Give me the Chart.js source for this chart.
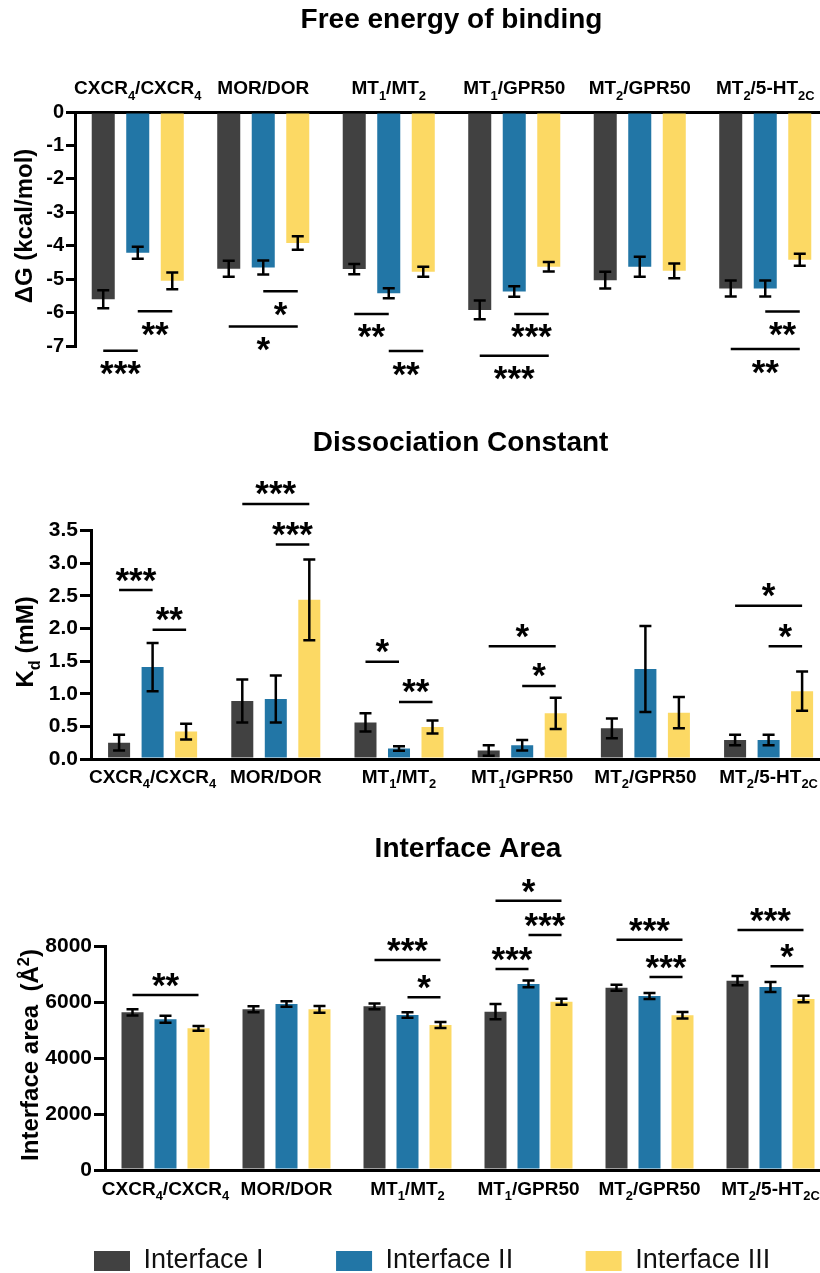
<!DOCTYPE html>
<html><head><meta charset="utf-8">
<script src="https://cdn.jsdelivr.net/npm/chart.js@4.4.1/dist/chart.umd.min.js"></script>
<style>
html,body{margin:0;padding:0;background:#fff;overflow:hidden;width:820px;height:1273px;}
#wrap{position:relative;width:820px;height:1273px;overflow:hidden;background:#fff;}
canvas{position:absolute;left:0;}
</style></head><body>
<div id="wrap">
<canvas id="c1" width="870" height="400" style="top:0px"></canvas>
<canvas id="c2" width="870" height="410" style="top:400px"></canvas>
<canvas id="c3" width="870" height="480" style="top:810px"></canvas>
</div>
<script>
const FONT = "'Liberation Sans', Arial, Helvetica, sans-serif";
Chart.defaults.font.family = FONT;
Chart.defaults.color = '#000';

// ---------- data ----------
const categories = ['CXCR4/CXCR4', 'MOR/DOR', 'MT1/MT2', 'MT1/GPR50', 'MT2/GPR50', 'MT2/5-HT2C'];
const categoryMarkup = ['CXCR_{4}/CXCR_{4}', 'MOR/DOR', 'MT_{1}/MT_{2}', 'MT_{1}/GPR50', 'MT_{2}/GPR50', 'MT_{2}/5-HT_{2C}'];
const seriesNames = ['Interface I', 'Interface II', 'Interface III'];
const seriesColors = ['#414141', '#2276A6', '#FCD964'];

// Free energy of binding (kcal/mol)
const dgI   = [-5.60, -4.69, -4.70, -5.92, -5.03, -5.28];
const dgII  = [-4.21, -4.65, -5.42, -5.37, -4.63, -5.28];
const dgIII = [-5.05, -3.92, -4.78, -4.63, -4.75, -4.42];
const dgErrI   = [0.27, 0.24, 0.15, 0.28, 0.25, 0.24];
const dgErrII  = [0.18, 0.21, 0.15, 0.16, 0.30, 0.24];
const dgErrIII = [0.25, 0.20, 0.15, 0.14, 0.22, 0.18];
const dgTicks = [0, -1, -2, -3, -4, -5, -6, -7];
// [category, series a, series b, level, label]
const dgSig = [
  [0, 0, 1, -7.14, '***'], [0, 1, 2, -5.96, '**'],
  [1, 1, 2, -5.36, '*'],   [1, 0, 2, -6.42, '*'],
  [2, 0, 1, -6.04, '**'],  [2, 1, 2, -7.15, '**'],
  [3, 1, 2, -6.04, '***'], [3, 0, 2, -7.29, '***'],
  [5, 1, 2, -5.97, '**'],  [5, 0, 2, -7.09, '**']
];

// Dissociation constant (mM)
const kdI   = [0.25, 0.89, 0.56, 0.13, 0.47, 0.29];
const kdII  = [1.41, 0.92, 0.16, 0.21, 1.38, 0.29];
const kdIII = [0.42, 2.44, 0.49, 0.70, 0.71, 1.04];
const kdErrI   = [0.12, 0.33, 0.14, 0.08, 0.15, 0.08];
const kdErrII  = [0.37, 0.36, 0.035, 0.08, 0.66, 0.08];
const kdErrIII = [0.12, 0.62, 0.10, 0.24, 0.24, 0.30];
const kdTicks = [0, 0.5, 1.0, 1.5, 2.0, 2.5, 3.0, 3.5];
const kdSig = [
  [0, 0, 1, 2.59, '***'], [0, 1, 2, 1.98, '**'],
  [1, 1, 2, 3.29, '***'], [1, 0, 2, 3.91, '***'],
  [2, 0, 1, 1.49, '*'],   [2, 1, 2, 0.874, '**'],
  [3, 1, 2, 1.12, '*'],   [3, 0, 2, 1.73, '*'],
  [5, 1, 2, 1.73, '*'],   [5, 0, 2, 2.35, '*']
];

// Interface area (Å²)
const areaI   = [5630, 5740, 5845, 5655, 6510, 6760];
const areaII  = [5380, 5930, 5535, 6645, 6215, 6535];
const areaIII = [5060, 5740, 5180, 6010, 5525, 6105];
const areaErrI   = [110, 105, 105, 270, 110, 165];
const areaErrII  = [125, 100, 100, 120, 105, 175];
const areaErrIII = [85, 120, 105, 105, 115, 115];
const areaTicks = [0, 2000, 4000, 6000, 8000];
const areaSig = [
  [0, 0, 2, 6250, '**'],
  [2, 0, 2, 7500, '***'], [2, 1, 2, 6168, '*'],
  [3, 0, 1, 7179, '***'], [3, 1, 2, 8393, '***'], [3, 0, 2, 9618, '*'],
  [4, 0, 2, 8225, '***'], [4, 1, 2, 6893, '***'],
  [5, 0, 2, 8571, '***'], [5, 1, 2, 7275, '*']
];

// ---------- rich text helpers ----------
function parseRich(s) {
  const out = []; const re = /([_^])\{([^}]*)\}/g; let last = 0, m;
  while ((m = re.exec(s))) {
    if (m.index > last) out.push({t: s.slice(last, m.index), k: 0});
    out.push({t: m[2], k: m[1] === '_' ? 1 : -1});
    last = re.lastIndex;
  }
  if (last < s.length) out.push({t: s.slice(last), k: 0});
  return out;
}
function drawRich(ctx, s, x, y, size, weight) {
  const segs = parseRich(s);
  const small = size * 0.68;
  let w = 0;
  segs.forEach(g => { ctx.font = `${weight} ${g.k ? small : size}px ${FONT}`; g.w = ctx.measureText(g.t).width; w += g.w; });
  let cx = x - w / 2;
  ctx.textAlign = 'left'; ctx.textBaseline = 'alphabetic';
  segs.forEach(g => {
    ctx.font = `${weight} ${g.k ? small : size}px ${FONT}`;
    const dy = g.k === 1 ? size * 0.28 : (g.k === -1 ? -size * 0.36 : 0);
    ctx.fillText(g.t, cx, y + dy);
    cx += g.w;
  });
}

// ---------- annotation plugin (error bars, labels, brackets) ----------
function annotPlugin(o) {
  return {
    id: 'annot_' + o.name,
    afterDatasetsDraw(chart) {
      const ctx = chart.ctx, ys = chart.scales.y;
      ctx.save();
      ctx.strokeStyle = '#000'; ctx.lineWidth = 2.5; ctx.lineCap = 'butt';
      chart.data.datasets.forEach((ds, di) => {
        const meta = chart.getDatasetMeta(di);
        meta.data.forEach((bar, i) => {
          const v = ds.data[i], e = o.errors[di][i];
          const yt = ys.getPixelForValue(v + e), yb = ys.getPixelForValue(v - e);
          const hw = 6;
          ctx.beginPath();
          ctx.moveTo(bar.x, yt); ctx.lineTo(bar.x, yb);
          ctx.moveTo(bar.x - hw, yt); ctx.lineTo(bar.x + hw, yt);
          ctx.moveTo(bar.x - hw, yb); ctx.lineTo(bar.x + hw, yb);
          ctx.stroke();
        });
      });
      ctx.restore();
    },
    afterDraw(chart) {
      const ctx = chart.ctx, xs = chart.scales.x, ys = chart.scales.y, area = chart.chartArea;
      ctx.save();
      ctx.fillStyle = '#000';
      // category labels
      const ly = o.xPos === 'top' ? area.top + o.labelDy : area.bottom + o.labelDy;
      categoryMarkup.forEach((lab, i) => {
        drawRich(ctx, lab, xs.getPixelForValue(i), ly, 19, 'bold');
      });
      // y axis title (rotated)
      ctx.save();
      ctx.translate(area.left - o.yTitleDx, (area.top + area.bottom) / 2 - 3);
      ctx.rotate(-Math.PI / 2);
      drawRich(ctx, o.yTitle, 0, 0, 24, 'bold');
      ctx.restore();
      // significance brackets
      ctx.strokeStyle = '#000'; ctx.lineWidth = 2.5;
      ctx.font = `bold 35px ${FONT}`;
      ctx.textAlign = 'center'; ctx.textBaseline = 'alphabetic';
      o.sig.forEach(([c, a, b, lvl, lab]) => {
        const xa = chart.getDatasetMeta(a).data[c].x;
        const xb = chart.getDatasetMeta(b).data[c].x;
        const py = ys.getPixelForValue(lvl);
        ctx.beginPath(); ctx.moveTo(xa, py); ctx.lineTo(xb, py); ctx.stroke();
        const m = ctx.measureText(lab);
        const cy = py + o.starDy;
        const base = cy + (m.actualBoundingBoxAscent - m.actualBoundingBoxDescent) / 2;
        ctx.fillText(lab, (xa + xb) / 2, base);
      });
      ctx.restore();
    }
  };
}

function makeChart(id, o) {
  const datasets = o.values.map((vals, k) => ({
    label: seriesNames[k], data: vals, backgroundColor: seriesColors[k], borderWidth: 0,
    categoryPercentage: o.catPct, barPercentage: o.barPct
  }));
  const scales = {
    x: {
      position: o.xPos, z: 1, offset: true,
      grid: {display: false},
      border: {display: true, color: '#000', width: 3},
      ticks: {display: false},
      afterFit: s => { s.height = o.xHeight; }
    },
    y: {
      min: o.min, max: o.max,
      afterFit: s => { s.width = o.yWidth; },
      afterBuildTicks: s => { s.ticks = o.ticks.map(v => ({value: v})); },
      ticks: {font: {size: o.tickSize, weight: 'bold'}, color: '#000', padding: 2, callback: o.fmt},
      grid: {display: true, drawOnChartArea: false, drawTicks: true, tickLength: o.tickLen, tickWidth: 3, tickColor: '#000', color: '#000', lineWidth: 3},
      border: {display: true, color: '#000', width: 3}
    }
  };
  if (o.rightBox) {
    scales.yr = {
      type: 'linear', position: 'right', display: true,
      grid: {display: false}, border: {display: false}, ticks: {display: false},
      afterFit: s => { s.width = o.rightBox; }
    };
  }
  return new Chart(document.getElementById(id), {
    type: 'bar',
    data: {labels: categories, datasets},
    options: {
      responsive: false, animation: false, devicePixelRatio: 1,
      layout: {padding: o.padding},
      plugins: {
        legend: o.legend || {display: false},
        tooltip: {enabled: false},
        title: {display: true, text: o.title, fullSize: false, color: '#000',
                font: {size: 28, weight: 'bold'}, padding: o.titlePad}
      },
      scales
    },
    plugins: [annotPlugin(o)]
  });
}

makeChart('c1', {
  name: 'dg', title: 'Free energy of binding',
  values: [dgI, dgII, dgIII], errors: [dgErrI, dgErrII, dgErrIII],
  sig: dgSig, starDy: 17.5,
  xPos: 'top', xHeight: 75.4, labelDy: -17.7,
  min: -7, max: 0, ticks: dgTicks, fmt: v => String(v), tickSize: 20, tickLen: 9,
  yWidth: 75, yTitle: 'ΔG (kcal/mol)', yTitleDx: 43,
  catPct: 0.825, barPct: 0.667,
  padding: {left: 0, right: 42, top: 0, bottom: 54},
  titlePad: {top: 3, bottom: 0}
});

makeChart('c2', {
  name: 'kd', title: 'Dissociation Constant',
  values: [kdI, kdII, kdIII], errors: [kdErrI, kdErrII, kdErrIII],
  sig: kdSig, starDy: -15.5,
  xPos: 'bottom', xHeight: 51, labelDy: 24,
  min: 0, max: 3.5, ticks: kdTicks, fmt: v => Number(v).toFixed(1), tickSize: 21, tickLen: 11,
  yWidth: 91, yTitle: 'K_{d} (mM)', yTitleDx: 58,
  catPct: 0.816, barPct: 0.657,
  padding: {left: 0, right: 39.8, top: 0, bottom: 0},
  titlePad: {top: 26.2, bottom: 70.9}
});

makeChart('c3', {
  name: 'area', title: 'Interface Area',
  values: [areaI, areaII, areaIII], errors: [areaErrI, areaErrII, areaErrIII],
  sig: areaSig, starDy: -15,
  xPos: 'bottom', xHeight: 5, labelDy: 25,
  min: 0, max: 8000, ticks: areaTicks, fmt: v => String(v), tickSize: 21, tickLen: 11,
  yWidth: 83.5, yTitle: 'Interface area  (Å^{2})', yTitleDx: 67,
  catPct: 0.818, barPct: 0.667,
  padding: {left: 21.5, right: 0, top: 0, bottom: 5.5},
  rightBox: 39,
  titlePad: {top: 22.2, bottom: 80.2},
  legend: {
    display: true, position: 'bottom', align: 'start',
    labels: {boxWidth: 36, boxHeight: 20, padding: 72.5, color: '#111', font: {size: 27, weight: 'normal'}}
  }
});
</script>
</body></html>
